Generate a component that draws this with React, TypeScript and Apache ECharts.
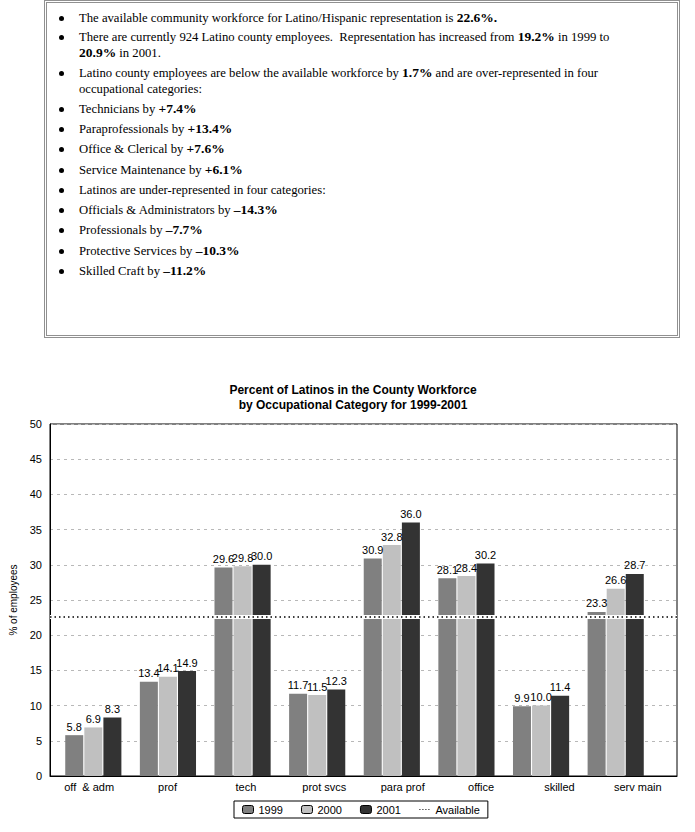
import React, { useEffect, useRef } from "react";
import * as echarts from "echarts";

const categories = ["off  & adm", "prof", "tech", "prot svcs", "para prof", "office", "skilled", "serv main"];
const values1999 = [5.8, 13.4, 29.6, 11.7, 30.9, 28.1, 9.9, 23.3];
const values2000 = [6.9, 14.1, 29.8, 11.5, 32.8, 28.4, 10.0, 26.6];
const values2001 = [8.3, 14.9, 30.0, 12.3, 36.0, 30.2, 11.4, 28.7];
const available = 22.6;
const seriesNames = ["1999", "2000", "2001", "Available"];
const seriesColors = ["#808080", "#c0c0c0", "#333333"];
const yTicks = { min: 0, max: 50, interval: 5 };

// bullet lines: [segments] where segment = [text, bold]
const bulletLines: [string, boolean][][] = [
  [["The available community workforce for Latino/Hispanic representation is ", false], ["22.6%.", true]],
  [["There are currently 924 Latino county employees.  Representation has increased from ", false], ["19.2%", true], [" in 1999 to", false]],
  [["20.9%", true], [" in 2001.", false]],
  [["Latino county employees are below the available workforce by ", false], ["1.7%", true], [" and are over-represented in four", false]],
  [["occupational categories:", false]],
  [["Technicians by ", false], ["+7.4%", true]],
  [["Paraprofessionals by ", false], ["+13.4%", true]],
  [["Office & Clerical by ", false], ["+7.6%", true]],
  [["Service Maintenance by ", false], ["+6.1%", true]],
  [["Latinos are under-represented in four categories:", false]],
  [["Officials & Administrators by ", false], ["\u201314.3%", true]],
  [["Professionals by ", false], ["\u20137.7%", true]],
  [["Protective Services by ", false], ["\u201310.3%", true]],
  [["Skilled Craft by ", false], ["\u201311.2%", true]],
];
const hasBullet = [true, true, false, true, false, true, true, true, true, true, true, true, true, true];
const lineCenters = [18, 37, 53, 73, 89, 109, 129, 149, 170, 190, 210, 230, 251, 271];

export default function App() {
  const ref = useRef<HTMLDivElement>(null);

  useEffect(() => {
    if (!ref.current) return;
    const chart = echarts.init(ref.current, null, { renderer: "svg" });
    const font = "Liberation Sans";
    const barSeries = [values1999, values2000, values2001].map((vals, i) => ({
      name: seriesNames[i],
      type: "bar",
      xAxisIndex: 1,
      yAxisIndex: 1,
      data: vals,
      barWidth: 18,
      barGap: "6%",
      itemStyle: { color: seriesColors[i] },
      label: {
        show: true,
        position: "top",
        distance: 3,
        color: "#000",
        fontSize: 11,
        fontFamily: font,
        formatter: (p: any) => Number(p.value).toFixed(1),
      },
      z: 2,
    }));
    chart.setOption({
      animation: false,
      backgroundColor: "#fff",
      textStyle: { fontFamily: font },
      title: {
        text: "Percent of Latinos in the County Workforce\nby Occupational Category for 1999-2001",
        left: 348,
        textAlign: "center",
        top: 377,
        textStyle: { fontSize: 12, fontWeight: "bold", color: "#000", lineHeight: 15, fontFamily: font },
      },
      legend: {
        left: 234,
        top: 801,
        padding: [3, 8],
        itemGap: 18,
        itemWidth: 11,
        itemHeight: 8,
        borderColor: "#000",
        borderWidth: 1,
        textStyle: { fontSize: 11, color: "#000", fontFamily: font },
        data: [
          { name: "1999", itemStyle: { borderColor: "#000", borderWidth: 1 } },
          { name: "2000", itemStyle: { borderColor: "#000", borderWidth: 1 } },
          { name: "2001", itemStyle: { borderColor: "#000", borderWidth: 1 } },
          {
            name: "Available",
            itemStyle: { color: "rgba(0,0,0,0)", borderColor: "rgba(0,0,0,0)", borderWidth: 0 },
            lineStyle: { color: "#000", type: [1, 2], width: 1 },
          },
        ],
      },
      grid: [
        { left: 50, right: 18, top: 424, bottom: 56, show: true, borderColor: "#000", borderWidth: 1, backgroundColor: "transparent" },
        { left: 56, right: 42, top: 424, bottom: 56 },
      ],
      xAxis: [
        {
          type: "category",
          gridIndex: 0,
          data: categories,
          axisTick: { show: false },
          axisLine: { lineStyle: { color: "#000", width: 1 } },
          axisLabel: { fontSize: 11, color: "#000", margin: 5, fontFamily: font },
        },
        {
          type: "category",
          gridIndex: 1,
          data: categories,
          show: false,
        },
      ],
      yAxis: [
        {
          type: "value",
          gridIndex: 0,
          min: yTicks.min,
          max: yTicks.max,
          interval: yTicks.interval,
          name: "% of employees",
          nameLocation: "middle",
          nameGap: 25,
          nameTextStyle: { fontSize: 10, color: "#000", fontFamily: font },
          axisLine: { show: true, lineStyle: { color: "#000", width: 1 } },
          axisTick: { show: false },
          axisLabel: { fontSize: 11, color: "#000", margin: 8, fontFamily: font },
          splitLine: { show: true, lineStyle: { color: "#b8b8b8", type: [3, 4], width: 1 } },
        },
        {
          type: "value",
          gridIndex: 1,
          min: yTicks.min,
          max: yTicks.max,
          interval: yTicks.interval,
          show: false,
          splitLine: { show: false },
        },
      ],
      series: [
        ...barSeries,
        {
          name: seriesNames[3],
          type: "line",
          xAxisIndex: 0,
          yAxisIndex: 0,
          data: [],
          symbol: "none",
          showSymbol: false,
          itemStyle: { color: "#000" },
          lineStyle: { color: "#000", type: "dotted", width: 1 },
          z: 5,
          markLine: {
            silent: true,
            symbol: "none",
            label: { show: false },
            data: [
              { yAxis: available, lineStyle: { color: "#fff", width: 4, type: "solid" } },
              { yAxis: available, lineStyle: { color: "#000", width: 1.5, type: [1.5, 3] } },
            ],
          },
        },
      ],
    });
    return () => chart.dispose();
  }, []);

  return (
    <div style={{ position: "absolute", left: 0, top: 0, width: 695, height: 832, background: "#fff" }}>
      <div ref={ref} style={{ position: "absolute", left: 0, top: 0, width: 695, height: 832 }} />
      <div
        style={{
          position: "absolute",
          left: 44,
          top: 0,
          width: 630,
          height: 332,
          border: "3px double #909090",
          background: "#fff",
          fontFamily: "'Liberation Serif', serif",
          fontSize: 12.7,
          color: "#000",
        }}
      >
        {bulletLines.map((segs, i) => (
          <div
            key={i}
            style={{ position: "absolute", top: lineCenters[i] - 8 - 3, left: 0, height: 16, lineHeight: "16px", whiteSpace: "pre" }}
          >
            {hasBullet[i] && (
              <span
                style={{
                  position: "absolute",
                  left: 12,
                  top: 6,
                  width: 5,
                  height: 5,
                  borderRadius: "50%",
                  background: "#000",
                }}
              />
            )}
            <span style={{ position: "absolute", left: 32, top: 0 }}>
              {segs.map(([t, b], j) => (
                <span key={j} style={{ fontWeight: b ? "bold" : "normal", fontSize: b ? 13.5 : undefined }}>{t}</span>
              ))}
            </span>
          </div>
        ))}
      </div>
    </div>
  );
}
